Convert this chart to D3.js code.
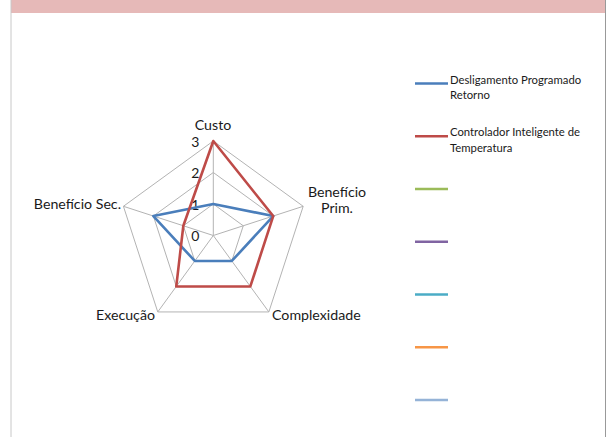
<!DOCTYPE html>
<html>
<head>
<meta charset="utf-8">
<script src="https://cdn.jsdelivr.net/npm/d3@7"></script>
<style>
  body { margin: 0; background: #fff; }
  text { font-family: Lato, "Noto Sans", sans-serif; fill: #1a1a1a; }
</style>
</head>
<body>
<svg></svg>
<script>
const size = {w: 612, h: 437};
const svg = d3.select('svg').attr('width', size.w).attr('height', size.h);

// chart data
const axes = ['Custo', 'Benefício Prim.', 'Complexidade', 'Execução', 'Benefício Sec.'];
const seriesNames = ['Desligamento Programado Retorno', 'Controlador Inteligente de Temperatura', '', '', '', '', ''];
const desligamento = [1, 2, 1, 1, 2];
const controlador = [3, 2, 2, 2, 1];
const ticks = [0, 1, 2, 3];
const colors = ['#4a7ebb', '#be4b48', '#9bbb59', '#8064a2', '#4bacc6', '#f79646', '#95b3d7'];

// frame: pink band on top, grey side borders
svg.append('rect').attr('x', 11).attr('y', 0).attr('width', 594).attr('height', 13).attr('fill', '#e6b9b8');
svg.append('line').attr('x1', 11).attr('x2', 11).attr('y1', 0).attr('y2', size.h).attr('stroke', '#c8c8c8');
svg.append('line').attr('x1', 605.5).attr('x2', 605.5).attr('y1', 0).attr('y2', size.h).attr('stroke', '#999');

// radar
const cx = 213.3, cy = 235.5;
const r = d3.scaleLinear().domain([0, 3]).range([0, 94.5]);
const angle = i => i * 2 * Math.PI / axes.length;
const pt = (i, v) => [cx + r(v) * Math.sin(angle(i)), cy - r(v) * Math.cos(angle(i))];

const radarG = svg.append('g').classed('radar', true);

// grid pentagons
radarG.selectAll('path.grid')
    .data(ticks.slice(1))
    .join('path')
    .classed('grid', true)
    .attr('d', t => d3.line()(axes.map((a, i) => pt(i, t))) + 'Z')
    .attr('fill', 'none')
    .attr('stroke', '#b3b3b3')
    .attr('stroke-width', 1);

// spokes
radarG.selectAll('line.spoke')
    .data(axes)
    .join('line')
    .classed('spoke', true)
    .attr('x1', cx).attr('y1', cy)
    .attr('x2', (d, i) => pt(i, 3)[0])
    .attr('y2', (d, i) => pt(i, 3)[1])
    .attr('stroke', '#b3b3b3')
    .attr('stroke-width', 1);

// tick labels
radarG.selectAll('text.tick')
    .data(ticks)
    .join('text')
    .classed('tick', true)
    .attr('x', cx - 14)
    .attr('y', t => cy - r(t))
    .attr('dy', '0.4em')
    .attr('text-anchor', 'end')
    .style('font-size', '14px')
    .text(t => t);

// series
[desligamento, controlador].forEach((vals, s) => {
    radarG.append('path')
        .attr('d', d3.line()(vals.map((v, i) => pt(i, v))) + 'Z')
        .attr('fill', 'none')
        .attr('stroke', colors[s])
        .attr('stroke-width', 2.6)
        .attr('stroke-linejoin', 'round');
});

// axis labels
const labelPos = [
    {x: 213, y: 130, anchor: 'middle', lines: ['Custo']},
    {x: 337, y: 197, anchor: 'middle', lines: ['Benefício', 'Prim.']},
    {x: 272, y: 320, anchor: 'start', lines: ['Complexidade']},
    {x: 155, y: 320, anchor: 'end', lines: ['Execução']},
    {x: 121, y: 209, anchor: 'end', lines: ['Benefício Sec.']}
];
radarG.selectAll('text.axis')
    .data(labelPos)
    .join('text')
    .classed('axis', true)
    .attr('x', d => d.x)
    .attr('y', d => d.y)
    .attr('text-anchor', d => d.anchor)
    .style('font-size', '14.2px')
    .selectAll('tspan')
    .data(d => d.lines.map(l => ({l, x: d.x})))
    .join('tspan')
    .attr('x', d => d.x)
    .attr('dy', (d, i) => i ? 16 : 0)
    .text(d => d.l);

// legend
const legendY = d3.scaleLinear().domain([0, 6]).range([83.5, 400]);
const wrap = name => {
    if (name === 'Desligamento Programado Retorno') return ['Desligamento Programado', 'Retorno'];
    if (name === 'Controlador Inteligente de Temperatura') return ['Controlador Inteligente de', 'Temperatura'];
    return [name];
};
const legendG = svg.append('g').classed('legend', true);
const items = legendG.selectAll('g')
    .data(seriesNames)
    .join('g')
    .attr('transform', (d, i) => 'translate(415,' + legendY(i) + ')');
items.append('line')
    .attr('x1', 0).attr('x2', 33)
    .attr('stroke', (d, i) => colors[i])
    .attr('stroke-width', 2.6);
items.append('text')
    .attr('x', 35)
    .attr('y', 0)
    .attr('dy', '0.36em')
    .style('font-size', '11.3px')
    .selectAll('tspan')
    .data(d => wrap(d))
    .join('tspan')
    .attr('x', 35)
    .attr('dy', (d, i) => i ? 15.5 : 0)
    .text(d => d);
</script>
</body>
</html>
